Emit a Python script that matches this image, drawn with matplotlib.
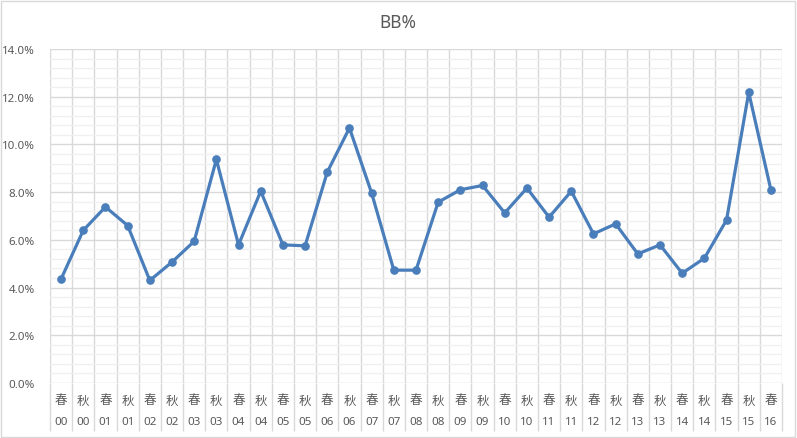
import matplotlib
matplotlib.use("Agg")
import matplotlib.pyplot as plt
from matplotlib.ticker import MultipleLocator, FuncFormatter
from matplotlib.patches import Rectangle
import matplotlib.transforms as mtransforms

seasons = ["春", "秋"] * 16 + ["春"]
years = [f"{i:02d}" for i in range(17) for _ in range(2)][:33]
bb_pct = [4.36, 6.40, 7.38, 6.60, 4.30, 5.07, 5.94, 9.37, 5.79, 8.04,
          5.79, 5.75, 8.84, 10.69, 7.96, 4.73, 4.73, 7.58, 8.10, 8.28,
          7.13, 8.17, 6.95, 8.04, 6.25, 6.67, 5.41, 5.79, 4.60, 5.23,
          6.83, 12.18, 8.09]

plt.rcParams['font.family'] = ['Noto Sans', 'Noto Sans CJK JP', 'DejaVu Sans']

W, H = 797, 439
fig = plt.figure(figsize=(W / 100, H / 100), dpi=100)
fig.patch.set_facecolor("white")
fig.patches.append(Rectangle((1 / W, 1.5 / H), (W - 3) / W, (H - 3.5) / H,
                             transform=fig.transFigure, fill=False,
                             edgecolor="#d9d9d9", linewidth=1))

left, right, top, bottom = 50, 782, 50, 384
ax = fig.add_axes([left / W, (H - bottom) / H, (right - left) / W, (bottom - top) / H])

n = len(bb_pct)
xs = [i + 0.5 for i in range(n)]
ax.plot(xs, bb_pct, color="#4a7ebb", linewidth=2.3, marker="o", markersize=5.2,
        zorder=5, clip_on=False)

ax.set_xlim(0, n)
ax.set_ylim(0, 14)
ax.yaxis.set_major_locator(MultipleLocator(2))
ax.yaxis.set_minor_locator(MultipleLocator(0.4))
ax.yaxis.set_major_formatter(FuncFormatter(lambda v, p: f"{v:.1f}%"))
ax.set_xticks(range(n + 1))
ax.set_xticklabels([])
ax.grid(which="major", axis="both", color="#d9d9d9", linewidth=1)
ax.grid(which="minor", axis="y", color="#f0f0f0", linewidth=1)
ax.set_axisbelow(True)
for s in ax.spines.values():
    s.set_visible(False)
ax.tick_params(axis="y", which="both", length=0, labelsize=8.3, labelcolor="#595959", pad=11)
ax.tick_params(axis="x", length=34.5, color="#d9d9d9", width=1, direction="out")

trans = mtransforms.blended_transform_factory(ax.transData, fig.transFigure)
for i in range(n):
    ax.text(i + 0.5, (H - 401) / H, seasons[i], transform=trans, ha="center", va="center",
            fontsize=9, color="#595959", family=['Noto Sans CJK JP', 'DejaVu Sans'])
    ax.text(i + 0.5, (H - 423) / H, years[i], transform=trans, ha="center", va="center",
            fontsize=8.3, color="#595959")

fig.text(398 / W, (H - 23) / H, "BB%", ha="center", va="center", fontsize=12.5, color="#595959")

fig.savefig("out.png", dpi=100)
